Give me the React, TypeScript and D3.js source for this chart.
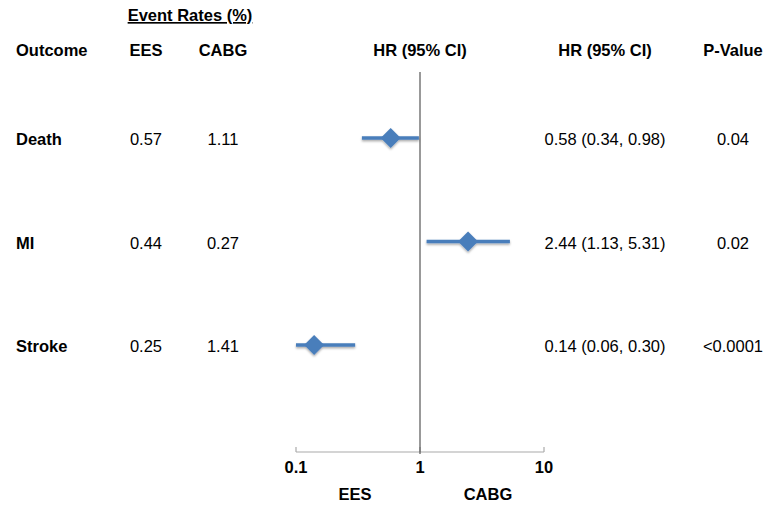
import React from "react";
import * as d3 from "d3";

const outcomes = ["Death", "MI", "Stroke"];
const eesRates = ["0.57", "0.44", "0.25"];
const cabgRates = ["1.11", "0.27", "1.41"];
const hr = [0.58, 2.44, 0.14];
const ciLow = [0.34, 1.13, 0.06];
const ciHigh = [0.98, 5.31, 0.30];
const hrLabels = ["0.58 (0.34, 0.98)", "2.44 (1.13, 5.31)", "0.14 (0.06, 0.30)"];
const pValues = ["0.04", "0.02", "<0.0001"];
const ticks = [0.1, 1, 10];
const tickLabels = ["0.1", "1", "10"];

const W = 771;
const H = 506;
const FONT = "'Liberation Sans', Arial, sans-serif";
const BLUE = "#4a7ebb";

export default function App() {
  const x = d3.scaleLog().domain([0.1, 10]).range([296, 544]).clamp(true);
  const y = d3.scalePoint<string>().domain(outcomes).range([138, 345]);
  const axisY = 452;
  const fs = 16.5;

  return (
    <svg width={W} height={H} style={{ position: "absolute", left: 0, top: 0, background: "#fff" }} fontFamily={FONT}>
      <defs>
        <filter id="sh" x="-20%" y="-50%" width="140%" height="200%">
          <feDropShadow dx="0" dy="1.5" stdDeviation="1" floodColor="#000" floodOpacity="0.35" />
        </filter>
      </defs>
      {/* Header */}
      <text x={190} y={21} fontSize={fs} fontWeight="bold" textAnchor="middle" textDecoration="underline">
        Event Rates (%)
      </text>
      <text x={16} y={56} fontSize={fs} fontWeight="bold">Outcome</text>
      <text x={146} y={56} fontSize={fs} fontWeight="bold" textAnchor="middle">EES</text>
      <text x={223} y={56} fontSize={fs} fontWeight="bold" textAnchor="middle">CABG</text>
      <text x={x(1)} y={56} fontSize={fs} fontWeight="bold" textAnchor="middle">HR (95% CI)</text>
      <text x={605} y={56} fontSize={fs} fontWeight="bold" textAnchor="middle">HR (95% CI)</text>
      <text x={733} y={56} fontSize={fs} fontWeight="bold" textAnchor="middle">P-Value</text>
      <line x1={8} x2={W} y1={70} y2={70} stroke="#555" strokeWidth={1.8} filter="url(#sh)" />

      {/* Axis */}
      <line x1={x(0.1)} x2={x(10)} y1={axisY} y2={axisY} stroke="#aaa" strokeWidth={1.2} />
      {ticks.map((t, i) => (
        <g key={t}>
          <line x1={x(t)} x2={x(t)} y1={axisY} y2={axisY - 5} stroke="#aaa" strokeWidth={1.2} />
          <text x={x(t)} y={473} fontSize={fs} fontWeight="bold" textAnchor="middle">{tickLabels[i]}</text>
        </g>
      ))}
      <line x1={x(1)} x2={x(1)} y1={72} y2={axisY + 2} stroke="#555" strokeWidth={1.2} />
      <text x={355} y={500} fontSize={fs} fontWeight="bold" textAnchor="middle">EES</text>
      <text x={488} y={500} fontSize={fs} fontWeight="bold" textAnchor="middle">CABG</text>

      {/* Rows */}
      {outcomes.map((o, i) => {
        const cy = y(o)!;
        const cx = x(hr[i]);
        const r = 10;
        return (
          <g key={o}>
            <text x={16} y={cy + 7} fontSize={fs} fontWeight="bold">{o}</text>
            <text x={146} y={cy + 7} fontSize={fs} textAnchor="middle">{eesRates[i]}</text>
            <text x={223} y={cy + 7} fontSize={fs} textAnchor="middle">{cabgRates[i]}</text>
            <text x={605} y={cy + 7} fontSize={fs} textAnchor="middle">{hrLabels[i]}</text>
            <text x={733} y={cy + 7} fontSize={fs} textAnchor="middle">{pValues[i]}</text>
            <g filter="url(#sh)">
              <line x1={x(ciLow[i])} x2={x(ciHigh[i])} y1={cy} y2={cy} stroke={BLUE} strokeWidth={3.5} />
              <path d={`M${cx - r},${cy} L${cx},${cy - r} L${cx + r},${cy} L${cx},${cy + r} Z`} fill={BLUE} />
            </g>
          </g>
        );
      })}
    </svg>
  );
}
